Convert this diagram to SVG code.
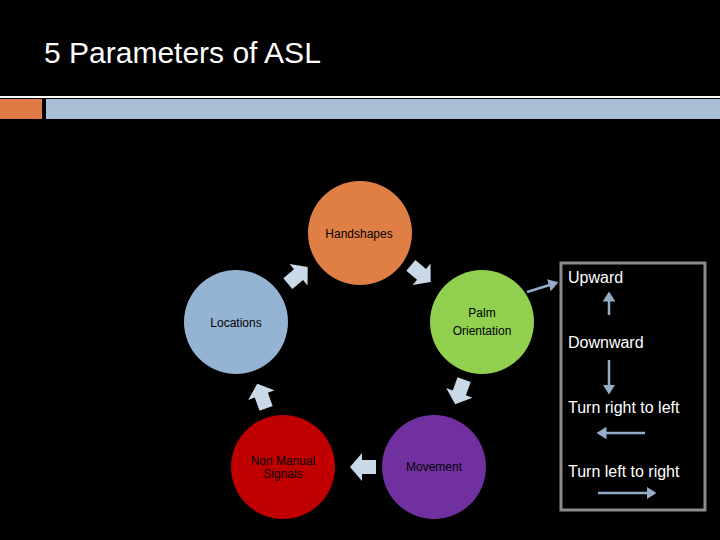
<svg xmlns="http://www.w3.org/2000/svg" width="720" height="540" viewBox="0 0 720 540">
<defs>
<style>
.lbl{font-family:"Liberation Sans",Arial,sans-serif;font-size:12px;fill:#000;text-anchor:middle}
.wt{font-family:"Liberation Sans",Arial,sans-serif;font-size:16px;fill:#fff}
.ba{fill:#c9d9e7}
.ln{stroke:#93acc8;stroke-width:2.5;fill:none}
</style>
<marker id="ah" markerWidth="5" markerHeight="5" refX="3" refY="2.5" orient="auto" markerUnits="strokeWidth"><path d="M0,0 L4,2.5 L0,5 Z" fill="#93acc8"/></marker>
<polygon id="blk" points="-12,-7 2,-7 2,-14 14,0 2,14 2,7 -12,7"/>
</defs>
<rect width="720" height="540" fill="#000"/>
<text x="44" y="63" font-family="Liberation Sans,Arial,sans-serif" font-size="30" fill="#fff">5 Parameters of ASL</text>
<rect x="0" y="96" width="720" height="2" fill="#fff"/>
<rect x="0" y="99" width="42" height="20" fill="#e07b45"/>
<rect x="46" y="99" width="674" height="20" fill="#a9bfd6"/>
<g id="handshapes"><circle cx="360" cy="233" r="52" fill="#e07f45"/><text class="lbl" x="359" y="238">Handshapes</text></g>
<g id="palm"><circle cx="482" cy="322" r="52" fill="#92d050"/><text class="lbl" x="482" y="317">Palm</text><text class="lbl" x="482" y="335">Orientation</text></g>
<g id="locations"><circle cx="236" cy="322" r="52" fill="#95b4d4"/><text class="lbl" x="236" y="327">Locations</text></g>
<g id="nonmanual"><circle cx="283" cy="467" r="52" fill="#c00000"/><text class="lbl" x="283" y="465">Non Manual</text><text class="lbl" x="283" y="478">Signals</text></g>
<g id="movement"><circle cx="434" cy="467" r="52" fill="#7030a0"/><text class="lbl" x="434" y="471">Movement</text></g>
<g id="connectors">
<use href="#blk" class="ba" transform="translate(297,276) rotate(-40)"/>
<use href="#blk" class="ba" transform="translate(420,273) rotate(40)"/>
<use href="#blk" class="ba" transform="translate(460,391) rotate(110)"/>
<use href="#blk" class="ba" transform="translate(364,467) rotate(180)"/>
<use href="#blk" class="ba" transform="translate(262,397) rotate(-110)"/>
<line class="ln" x1="527" y1="292" x2="556" y2="283" marker-end="url(#ah)"/>
<line class="ln" x1="609" y1="315" x2="609" y2="294" marker-end="url(#ah)"/>
<line class="ln" x1="609" y1="360" x2="609" y2="392" marker-end="url(#ah)"/>
<line class="ln" x1="645" y1="433" x2="599" y2="433" marker-end="url(#ah)"/>
<line class="ln" x1="598" y1="493" x2="654" y2="493" marker-end="url(#ah)"/>
</g>
<g id="legend">
<rect x="561" y="263" width="144" height="247" fill="none" stroke="#8c8c8c" stroke-width="3"/>
<text class="wt" x="568" y="283">Upward</text>
<text class="wt" x="568" y="348">Downward</text>
<text class="wt" x="568" y="413">Turn right to left</text>
<text class="wt" x="568" y="477">Turn left to right</text>
</g>
</svg>
